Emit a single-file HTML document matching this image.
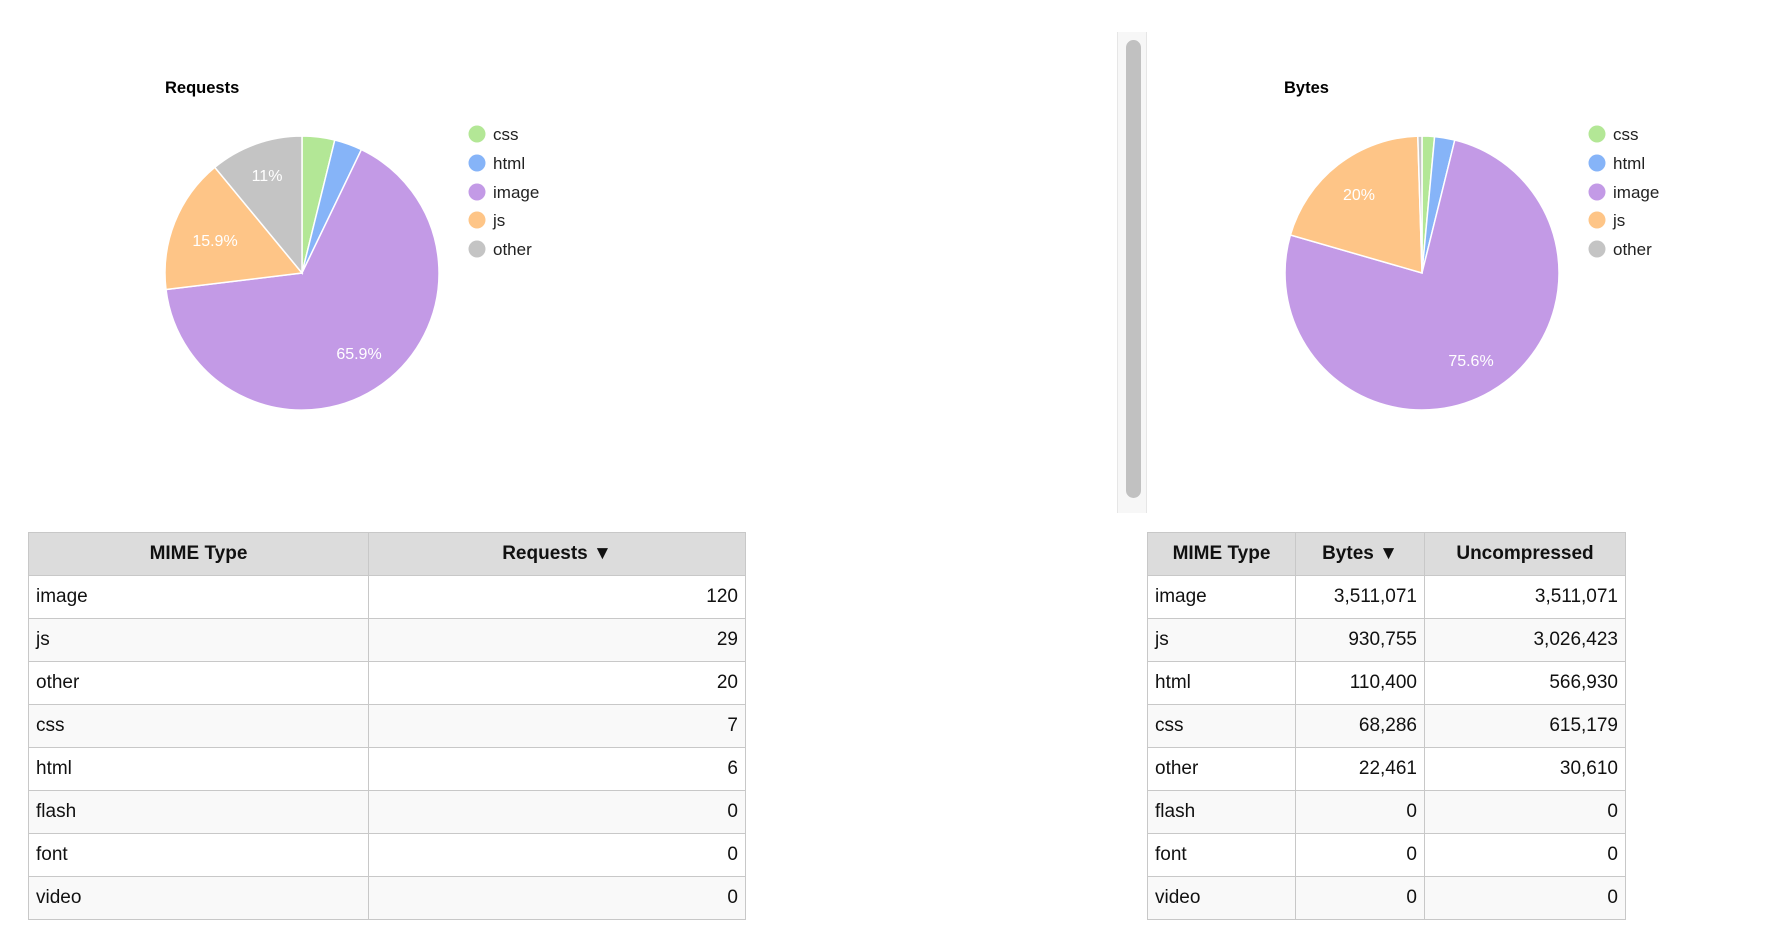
<!DOCTYPE html>
<html><head><meta charset="utf-8"><style>
body{margin:0;width:1788px;height:942px;background:#fff;font-family:"Liberation Sans",Arial,sans-serif;position:relative;overflow:hidden}
svg{position:absolute;left:0;top:0}
table{position:absolute;border-collapse:collapse;font-size:19px;color:#111}
td,th{border:1px solid #c8c8c8;height:42px;padding:0 7px}
th{background:#dcdcdc;font-weight:bold;text-align:center}
td.n{text-align:right}
tr:nth-child(odd) td{background:#f9f9f9}
tr:nth-child(even) td{background:#fff}
.sb{position:absolute;left:1117px;top:32px;width:28px;height:481px;background:#f7f7f7;border-left:1px solid #e6e6e6;border-right:1px solid #e6e6e6}
.th{position:absolute;left:8px;top:8px;width:15px;height:458px;background:#c1c1c1;border-radius:8px}
</style></head><body>
<svg width="1788" height="942" font-family="Liberation Sans, Arial, sans-serif">
<text x="165" y="93" font-size="16.5" font-weight="bold">Requests</text>
<g stroke="#fff" stroke-width="1.5">
<path d="M302 273 L302 136 A137 137 0 0 1 334.8 140 Z" fill="#b3e796"/>
<path d="M302 273 L334.8 140 A137 137 0 0 1 361.4 149.6 Z" fill="#86b4f8"/>
<path d="M302 273 L361.4 149.6 A137 137 0 1 1 166 289.5 Z" fill="#c39ae6"/>
<path d="M302 273 L166 289.5 A137 137 0 0 1 214.8 167.3 Z" fill="#fec587"/>
<path d="M302 273 L214.8 167.3 A137 137 0 0 1 302 136 Z" fill="#c4c4c4"/>
</g>
<g fill="#fff" font-size="16" text-anchor="middle">
<text x="267" y="181">11%</text><text x="215" y="246">15.9%</text><text x="359" y="359">65.9%</text>
</g>
<g font-size="17" fill="#222">
<circle cx="477" cy="134" r="8.5" fill="#b3e796"/><text x="493" y="140">css</text>
<circle cx="477" cy="163" r="8.5" fill="#86b4f8"/><text x="493" y="169">html</text>
<circle cx="477" cy="192" r="8.5" fill="#c39ae6"/><text x="493" y="198">image</text>
<circle cx="477" cy="220" r="8.5" fill="#fec587"/><text x="493" y="226">js</text>
<circle cx="477" cy="249" r="8.5" fill="#c4c4c4"/><text x="493" y="255">other</text>
</g>
<g transform="translate(-7,0)">
<text x="1291" y="93" font-size="16.5" font-weight="bold">Bytes</text>
<g stroke="#fff" stroke-width="1.5">
<path d="M1429 273 L1429 136 A137 137 0 0 1 1441.6 136.6 Z" fill="#b3e796"/>
<path d="M1429 273 L1441.6 136.6 A137 137 0 0 1 1461.8 140 Z" fill="#86b4f8"/>
<path d="M1429 273 L1461.8 140 A137 137 0 1 1 1297.4 235 Z" fill="#c39ae6"/>
<path d="M1429 273 L1297.4 235 A137 137 0 0 1 1424.8 136.1 Z" fill="#fec587"/>
<path d="M1429 273 L1424.8 136.1 A137 137 0 0 1 1429 136 Z" fill="#c4c4c4"/>
</g>
<g fill="#fff" font-size="16" text-anchor="middle">
<text x="1366" y="200">20%</text><text x="1478" y="366">75.6%</text>
</g>
<g font-size="17" fill="#222">
<circle cx="1604" cy="134" r="8.5" fill="#b3e796"/><text x="1620" y="140">css</text>
<circle cx="1604" cy="163" r="8.5" fill="#86b4f8"/><text x="1620" y="169">html</text>
<circle cx="1604" cy="192" r="8.5" fill="#c39ae6"/><text x="1620" y="198">image</text>
<circle cx="1604" cy="220" r="8.5" fill="#fec587"/><text x="1620" y="226">js</text>
<circle cx="1604" cy="249" r="8.5" fill="#c4c4c4"/><text x="1620" y="255">other</text>
</g>
</g>
</svg>
<div class="sb"><div class="th"></div></div>
<table style="left:28px;top:532px;width:718px">
<tr><th style="width:325px">MIME Type</th><th>Requests ▼</th></tr>
<tr><td>image</td><td class="n">120</td></tr>
<tr><td>js</td><td class="n">29</td></tr>
<tr><td>other</td><td class="n">20</td></tr>
<tr><td>css</td><td class="n">7</td></tr>
<tr><td>html</td><td class="n">6</td></tr>
<tr><td>flash</td><td class="n">0</td></tr>
<tr><td>font</td><td class="n">0</td></tr>
<tr><td>video</td><td class="n">0</td></tr>
</table>
<table style="left:1147px;top:532px;width:479px">
<tr><th style="width:133px">MIME Type</th><th style="width:114px">Bytes ▼</th><th>Uncompressed</th></tr>
<tr><td>image</td><td class="n">3,511,071</td><td class="n">3,511,071</td></tr>
<tr><td>js</td><td class="n">930,755</td><td class="n">3,026,423</td></tr>
<tr><td>html</td><td class="n">110,400</td><td class="n">566,930</td></tr>
<tr><td>css</td><td class="n">68,286</td><td class="n">615,179</td></tr>
<tr><td>other</td><td class="n">22,461</td><td class="n">30,610</td></tr>
<tr><td>flash</td><td class="n">0</td><td class="n">0</td></tr>
<tr><td>font</td><td class="n">0</td><td class="n">0</td></tr>
<tr><td>video</td><td class="n">0</td><td class="n">0</td></tr>
</table>
</body></html>
